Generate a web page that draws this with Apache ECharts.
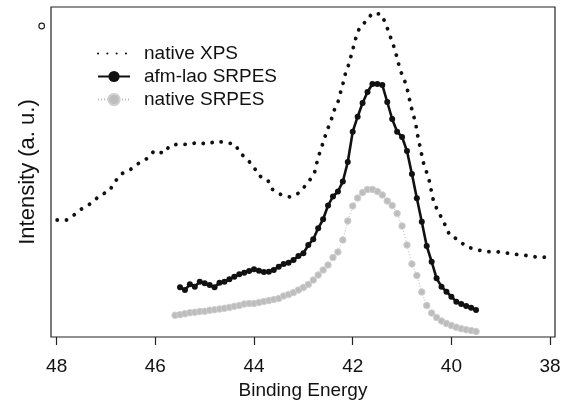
<!DOCTYPE html>
<html>
<head>
<meta charset="utf-8">
<script src="https://cdn.jsdelivr.net/npm/echarts@6/dist/echarts.min.js"></script>
<style>html,body{margin:0;padding:0;background:#fff;}#c{width:565px;height:402px;}</style>
</head>
<body>
<div id="c"></div>
<script>
var xTicks = [38, 40, 42, 44, 46, 48];
var seriesNames = ['native XPS', 'afm-lao SRPES', 'native SRPES'];

var xpsE = [47.99,47.80,47.63,47.48,47.30,47.12,46.93,46.83,46.68,46.50,46.33,46.16,46.02,45.83,45.70,45.51,45.32,45.14,44.95,44.76,44.57,44.39,44.28,44.12,44.00,43.90,43.72,43.63,43.45,43.27,43.08,42.92,
  42.78,42.70,42.63,42.58,42.51,42.44,42.38,42.29,42.24,42.19,42.14,42.07,42.02,41.97,41.92,41.85,41.70,41.61,41.43,41.33,41.27,41.20,41.14,41.09,41.04,40.96,40.90,40.86,40.82,40.77,40.72,40.69,40.65,40.61,40.57,40.51,40.45,40.41,40.37,40.30,40.20,40.11,40.03,39.87,39.70,39.51,39.32,39.14,38.95,38.76,38.58,38.39,38.20,38.02];
var xpsI = [117,117,122.7,128.7,133.7,141.7,146,154.7,163.3,167.7,174,178.7,186.3,183.7,191.7,193,192.3,194.7,192.7,196,194.3,193,184,176.7,169.7,161.3,156.7,147.7,142.3,140,144.3,153.7,
  163,179.7,189.7,197.7,207.7,216.3,226.3,236.3,246,254.7,265.3,273.7,283.7,292.7,302,310.3,317,323.7,323,313.7,304.3,295.7,286.3,277,267,258,249.3,240,231,222,212.5,203,193.7,184.3,174.7,166,156.5,147,137.7,128.7,119.3,110.3,101.3,97.7,90.3,87.7,85.3,85.3,84.7,83,82,81,79.3,80.3];

var afmE = [45.5,45.4,45.3,45.2,45.1,45.0,44.9,44.8,44.7,44.6,44.5,44.4,44.3,44.2,44.1,44.0,43.9,43.8,43.7,43.6,43.5,43.4,43.3,43.2,43.1,43.0,42.9,42.8,42.7,42.6,42.5,42.4,42.3,42.2,42.1,42.0,41.9,41.8,41.7,41.6,41.5,41.4,41.3,41.2,41.1,41.0,40.9,40.8,40.7,40.6,40.5,40.4,40.3,40.2,40.1,40.0,39.9,39.8,39.7,39.6,39.5];
var afmI = [49.7,47,52.7,50.3,55.3,53.7,52,49.7,54.3,55.3,57.7,60.3,62.7,64.3,66,67.7,66.3,65,65.3,67,70.3,73,74.3,77,81,83.7,92,97.7,108.7,117.7,131.5,140.5,145.5,155.5,175,205.3,220.3,234,245,253,253,252,235,218,205.3,200,186,163,138.7,115.3,91,75.3,58.7,50.3,45.3,40.3,35.3,33,31,29.3,27];

var natE = [45.6,45.5,45.4,45.3,45.2,45.1,45.0,44.9,44.8,44.7,44.6,44.5,44.4,44.3,44.2,44.1,44.0,43.9,43.8,43.7,43.6,43.5,43.4,43.3,43.2,43.1,43.0,42.9,42.8,42.7,42.6,42.5,42.4,42.3,42.2,42.1,42.0,41.9,41.8,41.7,41.6,41.5,41.4,41.3,41.2,41.1,41.0,40.9,40.8,40.7,40.6,40.5,40.4,40.3,40.2,40.1,40.0,39.9,39.8,39.7,39.6,39.5];
var natI = [21.7,22.3,23.3,24.3,24.7,25.5,25.7,26.7,27.2,28,28.7,29.6,30.7,31.5,33,33.5,33.5,34.5,35.5,36.5,37.5,38.5,41,42.5,44.5,47,49.5,52.5,57,62,67,72,79.5,85,97,116,131,139,144.5,147.5,147.5,145.5,142,136,131.5,123.5,111,92,73,61.5,45,31.5,24,19.5,16,13.5,11.5,9.7,8.3,7.3,6.5,5.5];

function pairs(xs, ys) { return xs.map(function (x, i) { return [x, ys[i]]; }); }

var FONT = 'Liberation Sans, Arial, sans-serif';
var chart = echarts.init(document.getElementById('c'), null, { renderer: 'canvas' });
chart.setOption({
  animation: false,
  backgroundColor: '#fff',
  grid: { left: 51, right: 10, top: 7, bottom: 65, show: true, borderColor: '#222', borderWidth: 1.2, backgroundColor: 'transparent',
          containLabel: false, outerBoundsMode: 'none' },
  xAxis: {
    type: 'value', inverse: true, min: 37.9, max: 48.115,
    name: 'Binding Energy', nameLocation: 'middle', nameGap: 43,
    nameTextStyle: { fontFamily: FONT, fontSize: 19, color: '#111' },
    axisLine: { show: false },
    axisTick: { show: true, inside: false, length: 8, customValues: xTicks, lineStyle: { color: '#222', width: 1.2 } },
    axisLabel: { customValues: xTicks, margin: 20, fontFamily: FONT, fontSize: 19, color: '#111' },
    splitLine: { show: false }
  },
  yAxis: {
    type: 'value', min: 0, max: 330,
    name: 'Intensity (a. u.)', nameLocation: 'middle', nameGap: 12, nameRotate: 90,
    nameTextStyle: { fontFamily: FONT, fontSize: 22, color: '#111' },
    axisLine: { show: false }, axisTick: { show: false }, axisLabel: { show: false }, splitLine: { show: false }
  },
  legend: {
    orient: 'vertical', left: 97, top: 44, padding: 0, itemWidth: 32, itemHeight: 14, itemGap: 4,
    data: [
      { name: seriesNames[0], itemStyle: { opacity: 0, color: 'transparent' } },
      { name: seriesNames[1] },
      { name: seriesNames[2] }
    ],
    textStyle: { fontFamily: FONT, fontSize: 19, color: '#111', padding: [0, 0, 0, 9] }
  },
  graphic: [
    { type: 'circle', shape: { cx: 41.7, cy: 26, r: 2.8 }, style: { fill: 'none', stroke: '#222', lineWidth: 1.2 } }
  ],
  series: [
    { name: seriesNames[0], type: 'line', data: pairs(xpsE, xpsI), symbol: 'none', smooth: false,
      lineStyle: { color: '#111', width: 3.8, type: [0.1, 9.2], cap: 'round' }, itemStyle: { color: '#111' } },
    { name: seriesNames[1], type: 'line', data: pairs(afmE, afmI), symbol: 'circle', symbolSize: 6, showSymbol: true,
      lineStyle: { color: '#111', width: 2.6 }, itemStyle: { color: '#111' } },
    { name: seriesNames[2], type: 'line', data: pairs(natE, natI), symbol: 'circle', symbolSize: 6.5, showSymbol: true,
      lineStyle: { color: '#bbb', width: 1, type: [1, 2] }, itemStyle: { color: '#bdbdbd', borderColor: '#cfcfcf', borderWidth: 1 } }
  ]
});
</script>
</body>
</html>
